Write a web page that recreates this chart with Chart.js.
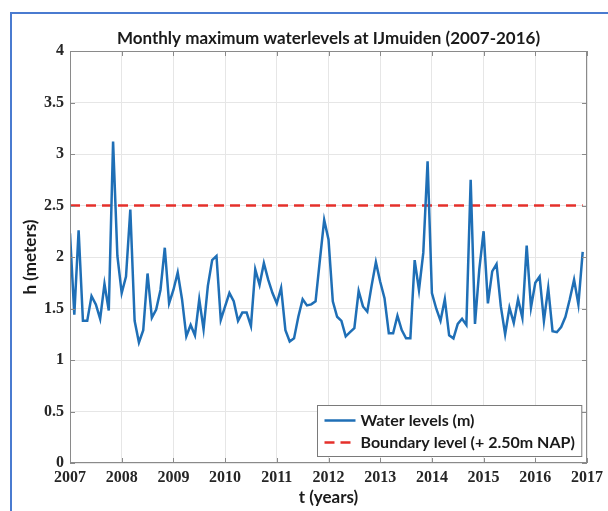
<!DOCTYPE html>
<html>
<head>
<meta charset="utf-8">
<script src="https://cdn.jsdelivr.net/npm/chart.js@4/dist/chart.umd.min.js"></script>
<style>
  html, body { margin: 0; padding: 0; background: #ffffff; }
  #wrap { position: relative; width: 608px; height: 511px; overflow: hidden; background: #ffffff; }
  #c { position: absolute; left: 0; top: 0; }
  #frame { position: absolute; left: 10px; top: 12px; width: 720px; height: 720px;
           border: 2px solid #4a7bd0; box-sizing: border-box; pointer-events: none; }
</style>
</head>
<body>
<div id="wrap">
  <canvas id="c" width="608" height="511"></canvas>
  <div id="frame"></div>
</div>
<script>
// Monthly maximum water level at IJmuiden, Jan 2007 .. Dec 2016 (metres)
const startYear = 2007;
const waterLevels = [
  2.23, 1.44, 2.26, 1.38, 1.38, 1.62, 1.54, 1.40, 1.74, 1.48, 3.12, 2.01,
  1.65, 1.81, 2.46, 1.38, 1.17, 1.29, 1.84, 1.41, 1.49, 1.68, 2.09, 1.55,
  1.68, 1.85, 1.59, 1.23, 1.34, 1.24, 1.59, 1.30, 1.72, 1.97, 2.01, 1.39,
  1.52, 1.65, 1.57, 1.38, 1.46, 1.46, 1.33, 1.88, 1.73, 1.94, 1.78, 1.65,
  1.55, 1.70, 1.29, 1.18, 1.21, 1.42, 1.59, 1.53, 1.54, 1.57, 1.97, 2.36,
  2.17, 1.57, 1.42, 1.38, 1.23, 1.27, 1.31, 1.67, 1.52, 1.47, 1.72, 1.95,
  1.76, 1.60, 1.26, 1.26, 1.43, 1.29, 1.21, 1.21, 1.97, 1.68, 2.04, 2.93,
  1.65, 1.50, 1.38, 1.59, 1.24, 1.21, 1.35, 1.40, 1.34, 2.75, 1.35, 1.88,
  2.25, 1.55, 1.86, 1.93, 1.52, 1.25, 1.51, 1.36, 1.59, 1.41, 2.11, 1.51,
  1.75, 1.81, 1.38, 1.70, 1.28, 1.27, 1.32, 1.42, 1.59, 1.78, 1.54, 2.05
];
const boundaryLevel = 2.5;
const yearTicks = [2007, 2008, 2009, 2010, 2011, 2012, 2013, 2014, 2015, 2016, 2017];
const levelTicks = [0, 0.5, 1, 1.5, 2, 2.5, 3, 3.5, 4];
const levelTickLabels = ['0', '0.5', '1', '1.5', '2', '2.5', '3', '3.5', '4'];

const seriesPoints = waterLevels.map((v, i) => ({ x: startYear + i / 12, y: v }));
const lastMonth = startYear + (waterLevels.length - 1) / 12;
const boundaryPoints = [{ x: startYear, y: boundaryLevel }, { x: lastMonth, y: boundaryLevel }];

const BLUE = '#1f6fb6';
const RED = '#e5302b';
const AXIS = '#8a8a8a';
const GRID = '#e6e6e6';
const TICK_FONT = { family: 'Liberation Serif', weight: 'bold', size: 16 };
const TITLE_FONT = { family: 'Lato', weight: 'bold', size: 17 };
const AXIS_TITLE_FONT = { family: 'Lato', weight: 'bold', size: 17 };

// Axes box, inward tick marks and the legend panel
const axesDecor = {
  id: 'axesDecor',
  afterDatasetsDraw(chart) {
    const { ctx, chartArea: a, scales } = chart;
    ctx.save();
    ctx.strokeStyle = AXIS;
    ctx.lineWidth = 1;
    ctx.strokeRect(a.left + 0.5, a.top + 0.5, a.right - a.left - 1, a.bottom - a.top - 1);
    ctx.beginPath();
    yearTicks.forEach(v => {
      const px = Math.round(scales.x.getPixelForValue(v)) + 0.5;
      ctx.moveTo(px, a.bottom); ctx.lineTo(px, a.bottom - 5);
      ctx.moveTo(px, a.top); ctx.lineTo(px, a.top + 5);
    });
    levelTicks.forEach(v => {
      const py = Math.round(scales.y.getPixelForValue(v)) + 0.5;
      ctx.moveTo(a.left, py); ctx.lineTo(a.left + 5, py);
      ctx.moveTo(a.right, py); ctx.lineTo(a.right - 5, py);
    });
    ctx.stroke();

    // legend
    const ds = chart.data.datasets;
    ctx.font = 'bold 16px Lato';
    const textW = Math.max(...ds.map(d => ctx.measureText(d.label).width));
    const sample = 31, pad = 7, rowH = 22;
    const boxW = pad + sample + 5 + textW + pad;
    const boxH = rowH * ds.length + 7;
    const bx = Math.round(a.right - 6 - boxW) + 0.5;
    const by = Math.round(a.bottom - 7 - boxH) + 0.5;
    ctx.fillStyle = '#ffffff';
    ctx.fillRect(bx, by, boxW, boxH);
    ctx.strokeStyle = '#7a7a7a';
    ctx.strokeRect(bx, by, boxW, boxH);
    ds.forEach((d, i) => {
      const cy = by + 4 + rowH * i + rowH / 2;
      ctx.beginPath();
      ctx.strokeStyle = d.borderColor;
      ctx.lineWidth = 2.5;
      ctx.setLineDash(d.borderDash || []);
      ctx.moveTo(bx + pad, cy); ctx.lineTo(bx + pad + sample, cy);
      ctx.stroke();
      ctx.setLineDash([]);
      ctx.fillStyle = '#1a1a1a';
      ctx.textBaseline = 'middle';
      ctx.textAlign = 'left';
      ctx.fillText(d.label, bx + pad + sample + 5, cy);
    });
    ctx.restore();
  }
};

new Chart(document.getElementById('c'), {
  type: 'line',
  data: {
    datasets: [
      { label: 'Water levels (m)', data: seriesPoints, borderColor: BLUE, borderWidth: 2.5,
        pointRadius: 0, tension: 0, fill: false },
      { label: 'Boundary level (+ 2.50m NAP)', data: boundaryPoints, borderColor: RED, borderWidth: 2.5,
        borderDash: [10, 6], pointRadius: 0, fill: false }
    ]
  },
  options: {
    responsive: false,
    animation: false,
    devicePixelRatio: 1,
    layout: { padding: { left: 0, right: 17, top: 0, bottom: 0 } },
    plugins: {
      legend: { display: false },
      tooltip: { enabled: false },
      title: {
        display: true,
        fullSize: false,
        text: 'Monthly maximum waterlevels at IJmuiden (2007-2016)',
        color: '#1a1a1a',
        font: TITLE_FONT,
        padding: { top: 28, bottom: 2.6 }
      }
    },
    scales: {
      x: {
        type: 'linear',
        min: 2007, max: 2017,
        afterBuildTicks: s => { s.ticks = yearTicks.map(v => ({ value: v })); },
        afterFit: s => { s.height = 48; },
        ticks: { callback: v => String(v), font: TICK_FONT, color: '#262626', padding: 5,
                 maxRotation: 0, autoSkip: false },
        grid: { color: GRID, drawTicks: false },
        border: { display: false },
        title: { display: true, text: 't (years)', color: '#1a1a1a', font: AXIS_TITLE_FONT,
                 padding: { top: 0, bottom: 3 } }
      },
      y: {
        min: 0, max: 4,
        afterBuildTicks: s => { s.ticks = levelTicks.map(v => ({ value: v })); },
        afterFit: s => { s.width = 70; },
        ticks: { callback: (v) => levelTickLabels[levelTicks.indexOf(v)], font: TICK_FONT,
                 color: '#262626', padding: 6 },
        grid: { color: GRID, drawTicks: false },
        border: { display: false },
        title: { display: true, text: 'h (meters)', color: '#1a1a1a', font: AXIS_TITLE_FONT,
                 padding: { top: 20, bottom: 0 } }
      }
    }
  },
  plugins: [axesDecor]
});
</script>
</body>
</html>
